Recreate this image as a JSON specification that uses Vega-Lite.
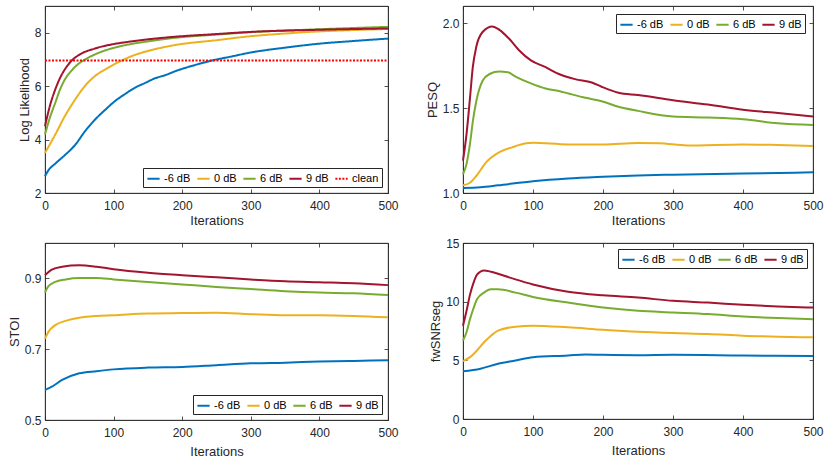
{
  "$schema": "https://vega.github.io/schema/vega-lite/v6.json",
  "background": "white",
  "padding": {"left": 7, "top": 5, "right": 12, "bottom": 3},
  "columns": 2,
  "align": "each",
  "spacing": {"row": 8, "column": 26},
  "resolve": {"scale": {"color": "independent", "strokeDash": "independent"}, "legend": {"color": "independent", "strokeDash": "independent"}},
  "datasets": {
    "ll": [
      {"it": 0, "v": 2.63, "s": "-6 dB"}, {"it": 5, "v": 2.85, "s": "-6 dB"}, {"it": 15, "v": 3.1, "s": "-6 dB"}, {"it": 29, "v": 3.42, "s": "-6 dB"}, {"it": 44, "v": 3.8, "s": "-6 dB"}, {"it": 58, "v": 4.3, "s": "-6 dB"}, {"it": 73, "v": 4.75, "s": "-6 dB"}, {"it": 88, "v": 5.12, "s": "-6 dB"}, {"it": 102, "v": 5.44, "s": "-6 dB"}, {"it": 117, "v": 5.71, "s": "-6 dB"}, {"it": 131, "v": 5.94, "s": "-6 dB"}, {"it": 146, "v": 6.12, "s": "-6 dB"}, {"it": 160, "v": 6.29, "s": "-6 dB"}, {"it": 175, "v": 6.41, "s": "-6 dB"}, {"it": 190, "v": 6.56, "s": "-6 dB"}, {"it": 220, "v": 6.8, "s": "-6 dB"}, {"it": 245, "v": 6.97, "s": "-6 dB"}, {"it": 270, "v": 7.1, "s": "-6 dB"}, {"it": 300, "v": 7.26, "s": "-6 dB"}, {"it": 350, "v": 7.44, "s": "-6 dB"}, {"it": 400, "v": 7.59, "s": "-6 dB"}, {"it": 450, "v": 7.69, "s": "-6 dB"}, {"it": 500, "v": 7.78, "s": "-6 dB"},
      {"it": 0, "v": 3.5, "s": "0 dB"}, {"it": 15, "v": 4.19, "s": "0 dB"}, {"it": 29, "v": 4.88, "s": "0 dB"}, {"it": 44, "v": 5.5, "s": "0 dB"}, {"it": 58, "v": 6.0, "s": "0 dB"}, {"it": 73, "v": 6.38, "s": "0 dB"}, {"it": 88, "v": 6.63, "s": "0 dB"}, {"it": 112, "v": 6.96, "s": "0 dB"}, {"it": 126, "v": 7.12, "s": "0 dB"}, {"it": 146, "v": 7.29, "s": "0 dB"}, {"it": 170, "v": 7.44, "s": "0 dB"}, {"it": 190, "v": 7.54, "s": "0 dB"}, {"it": 250, "v": 7.72, "s": "0 dB"}, {"it": 300, "v": 7.87, "s": "0 dB"}, {"it": 350, "v": 7.97, "s": "0 dB"}, {"it": 400, "v": 8.05, "s": "0 dB"}, {"it": 450, "v": 8.1, "s": "0 dB"}, {"it": 500, "v": 8.14, "s": "0 dB"},
      {"it": 0, "v": 4.19, "s": "6 dB"}, {"it": 7, "v": 4.81, "s": "6 dB"}, {"it": 15, "v": 5.38, "s": "6 dB"}, {"it": 22, "v": 5.88, "s": "6 dB"}, {"it": 29, "v": 6.25, "s": "6 dB"}, {"it": 39, "v": 6.59, "s": "6 dB"}, {"it": 49, "v": 6.84, "s": "6 dB"}, {"it": 56, "v": 6.96, "s": "6 dB"}, {"it": 73, "v": 7.19, "s": "6 dB"}, {"it": 97, "v": 7.41, "s": "6 dB"}, {"it": 122, "v": 7.56, "s": "6 dB"}, {"it": 146, "v": 7.66, "s": "6 dB"}, {"it": 190, "v": 7.81, "s": "6 dB"}, {"it": 250, "v": 7.93, "s": "6 dB"}, {"it": 300, "v": 8.02, "s": "6 dB"}, {"it": 400, "v": 8.13, "s": "6 dB"}, {"it": 500, "v": 8.22, "s": "6 dB"},
      {"it": 0, "v": 4.5, "s": "9 dB"}, {"it": 7, "v": 5.25, "s": "9 dB"}, {"it": 15, "v": 5.88, "s": "9 dB"}, {"it": 22, "v": 6.31, "s": "9 dB"}, {"it": 29, "v": 6.63, "s": "9 dB"}, {"it": 39, "v": 6.96, "s": "9 dB"}, {"it": 49, "v": 7.16, "s": "9 dB"}, {"it": 73, "v": 7.41, "s": "9 dB"}, {"it": 97, "v": 7.56, "s": "9 dB"}, {"it": 122, "v": 7.66, "s": "9 dB"}, {"it": 146, "v": 7.74, "s": "9 dB"}, {"it": 190, "v": 7.85, "s": "9 dB"}, {"it": 250, "v": 7.95, "s": "9 dB"}, {"it": 300, "v": 8.03, "s": "9 dB"}, {"it": 400, "v": 8.11, "s": "9 dB"}, {"it": 500, "v": 8.16, "s": "9 dB"},
      {"it": 0, "v": 6.96, "s": "clean"}, {"it": 500, "v": 6.96, "s": "clean"}
    ],
    "pesq": [
      {"it": 0, "v": 1.03, "s": "-6 dB"}, {"it": 25, "v": 1.034, "s": "-6 dB"}, {"it": 50, "v": 1.045, "s": "-6 dB"}, {"it": 100, "v": 1.069, "s": "-6 dB"}, {"it": 150, "v": 1.085, "s": "-6 dB"}, {"it": 200, "v": 1.095, "s": "-6 dB"}, {"it": 250, "v": 1.103, "s": "-6 dB"}, {"it": 300, "v": 1.108, "s": "-6 dB"}, {"it": 400, "v": 1.114, "s": "-6 dB"}, {"it": 500, "v": 1.122, "s": "-6 dB"},
      {"it": 0, "v": 1.045, "s": "0 dB"}, {"it": 10, "v": 1.06, "s": "0 dB"}, {"it": 19, "v": 1.1, "s": "0 dB"}, {"it": 33, "v": 1.18, "s": "0 dB"}, {"it": 52, "v": 1.24, "s": "0 dB"}, {"it": 71, "v": 1.27, "s": "0 dB"}, {"it": 90, "v": 1.292, "s": "0 dB"}, {"it": 100, "v": 1.296, "s": "0 dB"}, {"it": 150, "v": 1.286, "s": "0 dB"}, {"it": 200, "v": 1.286, "s": "0 dB"}, {"it": 250, "v": 1.294, "s": "0 dB"}, {"it": 280, "v": 1.293, "s": "0 dB"}, {"it": 320, "v": 1.28, "s": "0 dB"}, {"it": 400, "v": 1.286, "s": "0 dB"}, {"it": 450, "v": 1.282, "s": "0 dB"}, {"it": 500, "v": 1.276, "s": "0 dB"},
      {"it": 0, "v": 1.11, "s": "6 dB"}, {"it": 5, "v": 1.17, "s": "6 dB"}, {"it": 10, "v": 1.29, "s": "6 dB"}, {"it": 14, "v": 1.42, "s": "6 dB"}, {"it": 19, "v": 1.54, "s": "6 dB"}, {"it": 28, "v": 1.66, "s": "6 dB"}, {"it": 38, "v": 1.7, "s": "6 dB"}, {"it": 52, "v": 1.714, "s": "6 dB"}, {"it": 64, "v": 1.71, "s": "6 dB"}, {"it": 75, "v": 1.685, "s": "6 dB"}, {"it": 97, "v": 1.645, "s": "6 dB"}, {"it": 118, "v": 1.615, "s": "6 dB"}, {"it": 137, "v": 1.6, "s": "6 dB"}, {"it": 151, "v": 1.585, "s": "6 dB"}, {"it": 175, "v": 1.56, "s": "6 dB"}, {"it": 198, "v": 1.54, "s": "6 dB"}, {"it": 222, "v": 1.507, "s": "6 dB"}, {"it": 250, "v": 1.483, "s": "6 dB"}, {"it": 300, "v": 1.45, "s": "6 dB"}, {"it": 350, "v": 1.444, "s": "6 dB"}, {"it": 400, "v": 1.434, "s": "6 dB"}, {"it": 450, "v": 1.41, "s": "6 dB"}, {"it": 500, "v": 1.4, "s": "6 dB"},
      {"it": 0, "v": 1.19, "s": "9 dB"}, {"it": 5, "v": 1.345, "s": "9 dB"}, {"it": 10, "v": 1.56, "s": "9 dB"}, {"it": 14, "v": 1.74, "s": "9 dB"}, {"it": 19, "v": 1.86, "s": "9 dB"}, {"it": 28, "v": 1.947, "s": "9 dB"}, {"it": 42, "v": 1.98, "s": "9 dB"}, {"it": 52, "v": 1.96, "s": "9 dB"}, {"it": 66, "v": 1.907, "s": "9 dB"}, {"it": 80, "v": 1.84, "s": "9 dB"}, {"it": 97, "v": 1.78, "s": "9 dB"}, {"it": 118, "v": 1.74, "s": "9 dB"}, {"it": 137, "v": 1.7, "s": "9 dB"}, {"it": 160, "v": 1.67, "s": "9 dB"}, {"it": 184, "v": 1.65, "s": "9 dB"}, {"it": 198, "v": 1.625, "s": "9 dB"}, {"it": 222, "v": 1.59, "s": "9 dB"}, {"it": 250, "v": 1.576, "s": "9 dB"}, {"it": 300, "v": 1.546, "s": "9 dB"}, {"it": 350, "v": 1.52, "s": "9 dB"}, {"it": 400, "v": 1.49, "s": "9 dB"}, {"it": 450, "v": 1.47, "s": "9 dB"}, {"it": 500, "v": 1.45, "s": "9 dB"}
    ],
    "stoi": [
      {"it": 0, "v": 0.585, "s": "-6 dB"}, {"it": 10, "v": 0.594, "s": "-6 dB"}, {"it": 25, "v": 0.613, "s": "-6 dB"}, {"it": 50, "v": 0.632, "s": "-6 dB"}, {"it": 75, "v": 0.638, "s": "-6 dB"}, {"it": 100, "v": 0.643, "s": "-6 dB"}, {"it": 150, "v": 0.648, "s": "-6 dB"}, {"it": 200, "v": 0.65, "s": "-6 dB"}, {"it": 250, "v": 0.655, "s": "-6 dB"}, {"it": 300, "v": 0.66, "s": "-6 dB"}, {"it": 350, "v": 0.662, "s": "-6 dB"}, {"it": 400, "v": 0.665, "s": "-6 dB"}, {"it": 450, "v": 0.667, "s": "-6 dB"}, {"it": 500, "v": 0.669, "s": "-6 dB"},
      {"it": 0, "v": 0.73, "s": "0 dB"}, {"it": 5, "v": 0.749, "s": "0 dB"}, {"it": 15, "v": 0.768, "s": "0 dB"}, {"it": 30, "v": 0.78, "s": "0 dB"}, {"it": 50, "v": 0.789, "s": "0 dB"}, {"it": 75, "v": 0.794, "s": "0 dB"}, {"it": 100, "v": 0.796, "s": "0 dB"}, {"it": 150, "v": 0.801, "s": "0 dB"}, {"it": 200, "v": 0.802, "s": "0 dB"}, {"it": 250, "v": 0.803, "s": "0 dB"}, {"it": 300, "v": 0.799, "s": "0 dB"}, {"it": 350, "v": 0.796, "s": "0 dB"}, {"it": 400, "v": 0.796, "s": "0 dB"}, {"it": 450, "v": 0.794, "s": "0 dB"}, {"it": 500, "v": 0.79, "s": "0 dB"},
      {"it": 0, "v": 0.86, "s": "6 dB"}, {"it": 5, "v": 0.878, "s": "6 dB"}, {"it": 15, "v": 0.89, "s": "6 dB"}, {"it": 30, "v": 0.897, "s": "6 dB"}, {"it": 50, "v": 0.901, "s": "6 dB"}, {"it": 75, "v": 0.901, "s": "6 dB"}, {"it": 100, "v": 0.897, "s": "6 dB"}, {"it": 150, "v": 0.89, "s": "6 dB"}, {"it": 200, "v": 0.883, "s": "6 dB"}, {"it": 250, "v": 0.876, "s": "6 dB"}, {"it": 300, "v": 0.87, "s": "6 dB"}, {"it": 350, "v": 0.864, "s": "6 dB"}, {"it": 400, "v": 0.86, "s": "6 dB"}, {"it": 450, "v": 0.858, "s": "6 dB"}, {"it": 500, "v": 0.853, "s": "6 dB"},
      {"it": 0, "v": 0.909, "s": "9 dB"}, {"it": 10, "v": 0.925, "s": "9 dB"}, {"it": 25, "v": 0.933, "s": "9 dB"}, {"it": 50, "v": 0.937, "s": "9 dB"}, {"it": 75, "v": 0.933, "s": "9 dB"}, {"it": 100, "v": 0.926, "s": "9 dB"}, {"it": 150, "v": 0.916, "s": "9 dB"}, {"it": 200, "v": 0.909, "s": "9 dB"}, {"it": 250, "v": 0.903, "s": "9 dB"}, {"it": 300, "v": 0.897, "s": "9 dB"}, {"it": 350, "v": 0.892, "s": "9 dB"}, {"it": 400, "v": 0.889, "s": "9 dB"}, {"it": 450, "v": 0.886, "s": "9 dB"}, {"it": 500, "v": 0.881, "s": "9 dB"}
    ],
    "fw": [
      {"it": 0, "v": 4.06, "s": "-6 dB"}, {"it": 25, "v": 4.29, "s": "-6 dB"}, {"it": 50, "v": 4.71, "s": "-6 dB"}, {"it": 75, "v": 4.99, "s": "-6 dB"}, {"it": 100, "v": 5.27, "s": "-6 dB"}, {"it": 150, "v": 5.41, "s": "-6 dB"}, {"it": 175, "v": 5.5, "s": "-6 dB"}, {"it": 200, "v": 5.47, "s": "-6 dB"}, {"it": 250, "v": 5.44, "s": "-6 dB"}, {"it": 300, "v": 5.47, "s": "-6 dB"}, {"it": 400, "v": 5.41, "s": "-6 dB"}, {"it": 500, "v": 5.36, "s": "-6 dB"},
      {"it": 0, "v": 4.93, "s": "0 dB"}, {"it": 10, "v": 5.27, "s": "0 dB"}, {"it": 20, "v": 5.84, "s": "0 dB"}, {"it": 30, "v": 6.54, "s": "0 dB"}, {"it": 40, "v": 7.1, "s": "0 dB"}, {"it": 50, "v": 7.53, "s": "0 dB"}, {"it": 75, "v": 7.87, "s": "0 dB"}, {"it": 100, "v": 7.95, "s": "0 dB"}, {"it": 150, "v": 7.81, "s": "0 dB"}, {"it": 200, "v": 7.61, "s": "0 dB"}, {"it": 250, "v": 7.44, "s": "0 dB"}, {"it": 300, "v": 7.33, "s": "0 dB"}, {"it": 350, "v": 7.25, "s": "0 dB"}, {"it": 400, "v": 7.1, "s": "0 dB"}, {"it": 450, "v": 7.02, "s": "0 dB"}, {"it": 500, "v": 6.96, "s": "0 dB"},
      {"it": 0, "v": 6.68, "s": "6 dB"}, {"it": 5, "v": 7.39, "s": "6 dB"}, {"it": 10, "v": 8.51, "s": "6 dB"}, {"it": 15, "v": 9.44, "s": "6 dB"}, {"it": 20, "v": 10.2, "s": "6 dB"}, {"it": 30, "v": 10.77, "s": "6 dB"}, {"it": 40, "v": 11.05, "s": "6 dB"}, {"it": 50, "v": 11.05, "s": "6 dB"}, {"it": 75, "v": 10.77, "s": "6 dB"}, {"it": 100, "v": 10.4, "s": "6 dB"}, {"it": 150, "v": 9.92, "s": "6 dB"}, {"it": 200, "v": 9.5, "s": "6 dB"}, {"it": 250, "v": 9.22, "s": "6 dB"}, {"it": 300, "v": 9.08, "s": "6 dB"}, {"it": 350, "v": 8.94, "s": "6 dB"}, {"it": 400, "v": 8.74, "s": "6 dB"}, {"it": 450, "v": 8.6, "s": "6 dB"}, {"it": 500, "v": 8.51, "s": "6 dB"},
      {"it": 0, "v": 7.95, "s": "9 dB"}, {"it": 5, "v": 9.2, "s": "9 dB"}, {"it": 10, "v": 10.6, "s": "9 dB"}, {"it": 15, "v": 11.6, "s": "9 dB"}, {"it": 20, "v": 12.3, "s": "9 dB"}, {"it": 30, "v": 12.66, "s": "9 dB"}, {"it": 40, "v": 12.55, "s": "9 dB"}, {"it": 50, "v": 12.38, "s": "9 dB"}, {"it": 75, "v": 11.9, "s": "9 dB"}, {"it": 100, "v": 11.47, "s": "9 dB"}, {"it": 150, "v": 10.85, "s": "9 dB"}, {"it": 200, "v": 10.54, "s": "9 dB"}, {"it": 250, "v": 10.35, "s": "9 dB"}, {"it": 300, "v": 10.07, "s": "9 dB"}, {"it": 350, "v": 9.92, "s": "9 dB"}, {"it": 400, "v": 9.73, "s": "9 dB"}, {"it": 450, "v": 9.59, "s": "9 dB"}, {"it": 500, "v": 9.5, "s": "9 dB"}
    ]
  },
  "concat": [
    {
      "width": 343,
      "height": 187,
      "data": {"name": "ll"},
      "layer": [
        {
          "mark": {"type": "line", "strokeWidth": 2, "interpolate": "monotone"},
          "encoding": {
            "x": {"field": "it", "type": "quantitative", "scale": {"domain": [0, 500], "nice": false}, "axis": {"title": "Iterations", "values": [0, 100, 200, 300, 400, 500]}},
            "y": {"field": "v", "type": "quantitative", "scale": {"domain": [2, 9], "nice": false, "zero": false}, "axis": {"title": "Log Likelihood", "values": [2, 4, 6, 8]}},
            "color": {"field": "s", "type": "nominal", "scale": {"domain": ["-6 dB", "0 dB", "6 dB", "9 dB", "clean"], "range": ["#0072BD", "#EDB120", "#77AC30", "#A2142F", "#FF0000"]}, "legend": {"orient": "bottom-right", "title": null}},
            "strokeDash": {"field": "s", "type": "nominal", "scale": {"domain": ["-6 dB", "0 dB", "6 dB", "9 dB", "clean"], "range": [[1, 0], [1, 0], [1, 0], [1, 0], [2, 1.5]]}, "legend": {"orient": "bottom-right", "title": null}}
          }
        },
        {
          "mark": {"type": "point", "opacity": 0},
          "encoding": {
            "x": {"field": "it", "type": "quantitative", "axis": {"orient": "top", "labels": false, "title": null, "values": [0, 100, 200, 300, 400, 500]}},
            "y": {"field": "v", "type": "quantitative", "axis": {"orient": "right", "labels": false, "title": null, "values": [2, 4, 6, 8]}}
          }
        }
      ],
      "resolve": {"axis": {"x": "independent", "y": "independent"}}
    },
    {
      "width": 350,
      "height": 187,
      "data": {"name": "pesq"},
      "layer": [
        {
          "mark": {"type": "line", "strokeWidth": 2, "interpolate": "monotone"},
          "encoding": {
            "x": {"field": "it", "type": "quantitative", "scale": {"domain": [0, 500], "nice": false}, "axis": {"title": "Iterations", "values": [0, 100, 200, 300, 400, 500]}},
            "y": {"field": "v", "type": "quantitative", "scale": {"domain": [1, 2.1], "nice": false, "zero": false}, "axis": {"title": "PESQ", "values": [1, 1.5, 2]}},
            "color": {"field": "s", "type": "nominal", "scale": {"domain": ["-6 dB", "0 dB", "6 dB", "9 dB"], "range": ["#0072BD", "#EDB120", "#77AC30", "#A2142F"]}, "legend": {"orient": "top-right", "title": null, "offset": 8}}
          }
        },
        {
          "mark": {"type": "point", "opacity": 0},
          "encoding": {
            "x": {"field": "it", "type": "quantitative", "axis": {"orient": "top", "labels": false, "title": null, "values": [0, 100, 200, 300, 400, 500]}},
            "y": {"field": "v", "type": "quantitative", "axis": {"orient": "right", "labels": false, "title": null, "values": [1, 1.5, 2]}}
          }
        }
      ],
      "resolve": {"axis": {"x": "independent", "y": "independent"}}
    },
    {
      "width": 343,
      "height": 177,
      "data": {"name": "stoi"},
      "layer": [
        {
          "mark": {"type": "line", "strokeWidth": 2, "interpolate": "monotone"},
          "encoding": {
            "x": {"field": "it", "type": "quantitative", "scale": {"domain": [0, 500], "nice": false}, "axis": {"title": "Iterations", "titlePadding": 7, "values": [0, 100, 200, 300, 400, 500]}},
            "y": {"field": "v", "type": "quantitative", "scale": {"domain": [0.5, 1.0], "nice": false, "zero": false}, "axis": {"title": "STOI", "values": [0.5, 0.7, 0.9], "format": ".1f"}},
            "color": {"field": "s", "type": "nominal", "scale": {"domain": ["-6 dB", "0 dB", "6 dB", "9 dB"], "range": ["#0072BD", "#EDB120", "#77AC30", "#A2142F"]}, "legend": {"orient": "bottom-right", "title": null}}
          }
        },
        {
          "mark": {"type": "point", "opacity": 0},
          "encoding": {
            "x": {"field": "it", "type": "quantitative", "axis": {"orient": "top", "labels": false, "title": null, "values": [0, 100, 200, 300, 400, 500]}},
            "y": {"field": "v", "type": "quantitative", "axis": {"orient": "right", "labels": false, "title": null, "values": [0.5, 0.7, 0.9]}}
          }
        }
      ],
      "resolve": {"axis": {"x": "independent", "y": "independent"}}
    },
    {
      "width": 350,
      "height": 176,
      "data": {"name": "fw"},
      "layer": [
        {
          "mark": {"type": "line", "strokeWidth": 2, "interpolate": "monotone"},
          "encoding": {
            "x": {"field": "it", "type": "quantitative", "scale": {"domain": [0, 500], "nice": false}, "axis": {"title": "Iterations", "titlePadding": 7, "values": [0, 100, 200, 300, 400, 500]}},
            "y": {"field": "v", "type": "quantitative", "scale": {"domain": [0, 15], "nice": false}, "axis": {"title": "fwSNRseg", "values": [0, 5, 10, 15]}},
            "color": {"field": "s", "type": "nominal", "scale": {"domain": ["-6 dB", "0 dB", "6 dB", "9 dB"], "range": ["#0072BD", "#EDB120", "#77AC30", "#A2142F"]}, "legend": {"orient": "top-right", "title": null}}
          }
        },
        {
          "mark": {"type": "point", "opacity": 0},
          "encoding": {
            "x": {"field": "it", "type": "quantitative", "axis": {"orient": "top", "labels": false, "title": null, "values": [0, 100, 200, 300, 400, 500]}},
            "y": {"field": "v", "type": "quantitative", "axis": {"orient": "right", "labels": false, "title": null, "values": [0, 5, 10, 15]}}
          }
        }
      ],
      "resolve": {"axis": {"x": "independent", "y": "independent"}}
    }
  ],
  "config": {
    "font": "Liberation Sans",
    "view": {"stroke": "#262626", "strokeWidth": 0.8},
    "axis": {
      "grid": false,
      "domainColor": "#262626",
      "domainWidth": 0.8,
      "tickColor": "#262626",
      "tickWidth": 0.8,
      "tickSize": -4,
      "labelFlush": false,
      "labelColor": "#262626",
      "labelFontSize": 12,
      "titleColor": "#262626",
      "titleFontSize": 13,
      "titleFontWeight": "normal",
      "titlePadding": 3
    },
    "axisX": {"labelPadding": 11},
    "axisY": {"labelPadding": 8},
    "legend": {
      "direction": "horizontal",
      "symbolType": "stroke",
      "symbolSize": 150,
      "symbolStrokeWidth": 2,
      "labelFontSize": 11,
      "labelColor": "black",
      "labelOffset": 3,
      "columnPadding": 2,
      "padding": 3,
      "offset": 6,
      "strokeColor": "#262626",
      "fillColor": "white",
      "cornerRadius": 0
    }
  }
}
